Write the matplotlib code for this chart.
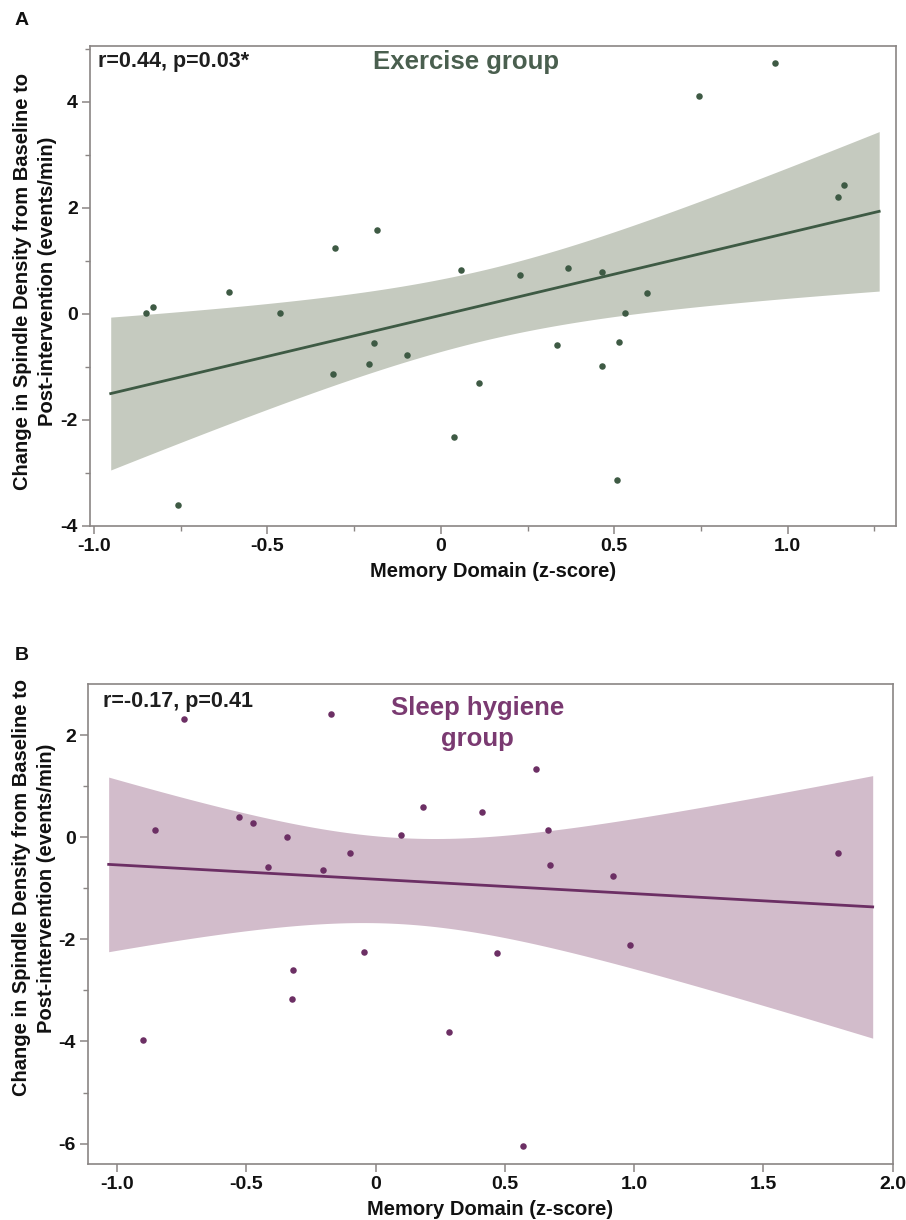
import matplotlib

matplotlib.use("Agg")

import matplotlib.pyplot as plt
import numpy as np

plt.rcParams["font.family"] = ["Liberation Sans", "DejaVu Sans"]
plt.rcParams["font.weight"] = "bold"

# --- data ---------------------------------------------------------------
EX_X = [-0.851, -0.829, -0.610, -0.758, -0.463, -0.306, -0.183, -0.311, -0.192,
        -0.208, -0.097, 0.057, 0.109, 0.038, 0.228, 0.368, 0.464, 0.594,
        0.530, 0.514, 0.336, 0.464, 0.509, 0.743, 0.964, 1.144, 1.163]
EX_Y = [0.01, 0.13, 0.42, -3.61, 0.01, 1.25, 1.58, -1.14, -0.55,
        -0.94, -0.77, 0.82, -1.31, -2.33, 0.74, 0.87, 0.79, 0.39,
        0.01, -0.53, -0.59, -0.99, -3.13, 4.12, 4.73, 2.21, 2.43]

SH_X = [-0.742, -0.171, -0.854, -0.530, -0.473, -0.341, -0.416, -0.205, -0.097,
        0.100, 0.185, 0.412, -0.044, -0.318, -0.324, -0.898, 0.284, 0.469,
        0.620, 0.669, 0.674, 0.918, 0.983, 1.789, 0.572]
SH_Y = [2.32, 2.41, 0.14, 0.40, 0.28, 0.01, -0.59, -0.64, -0.31,
        0.05, 0.59, 0.50, -2.25, -2.60, -3.17, -3.97, -3.82, -2.27,
        1.33, 0.14, -0.54, -0.76, -2.12, -0.32, -6.05]

EX_XTICKS = [-1.0, -0.5, 0.0, 0.5, 1.0]
EX_XLABELS = ["-1.0", "-0.5", "0", "0.5", "1.0"]
EX_XMINOR = [-0.75, -0.25, 0.25, 0.75, 1.25]
EX_YTICKS = [-4, -2, 0, 2, 4]
EX_YMINOR = [-3, -1, 1, 3, 5]

SH_XTICKS = [-1.0, -0.5, 0.0, 0.5, 1.0, 1.5, 2.0]
SH_XLABELS = ["-1.0", "-0.5", "0", "0.5", "1.0", "1.5", "2.0"]
SH_YTICKS = [-6, -4, -2, 0, 2]
SH_YMINOR = [-5, -3, -1, 1]

# two-sided 95% t critical values by degrees of freedom
T_CRIT = {25: 2.0595, 23: 2.0687}

YLABEL = "Change in Spindle Density from Baseline to\nPost-intervention (events/min)"
XLABEL = "Memory Domain (z-score)"
SPINE = "#8a8584"


def fit_band(x, y, pad=0.05, n=120):
    """OLS line with 95% confidence band of the mean, drawn a bit past the data."""
    x = np.asarray(x)
    y = np.asarray(y)
    slope, intercept = np.polyfit(x, y, 1)
    span = x.max() - x.min()
    xs = np.linspace(x.min() - pad * span, x.max() + pad * span, n)
    resid = y - (slope * x + intercept)
    s = np.sqrt(np.sum(resid ** 2) / (len(x) - 2))
    se = s * np.sqrt(1 / len(x) + (xs - x.mean()) ** 2 / np.sum((x - x.mean()) ** 2))
    fit = slope * xs + intercept
    t = T_CRIT[len(x) - 2]
    return xs, fit, fit - t * se, fit + t * se


def style_axes(ax, xticks, xlabels, xminor, yticks, yminor):
    for sp in ax.spines.values():
        sp.set_color(SPINE)
        sp.set_linewidth(1.2)
    ax.set_xticks(xticks)
    ax.set_xticklabels(xlabels)
    ax.set_xticks(xminor, minor=True)
    ax.set_yticks(yticks)
    ax.set_yticklabels([str(v) for v in yticks])
    ax.set_yticks(yminor, minor=True)
    ax.tick_params(which="major", direction="out", length=5.5, width=1.1, color=SPINE,
                   labelsize=14, labelcolor="#111111", pad=3.5)
    ax.tick_params(which="minor", direction="out", length=3.5, width=1.0, color=SPINE)
    ax.tick_params(top=False, right=False, which="both")
    for lab in ax.get_xticklabels() + ax.get_yticklabels():
        lab.set_fontweight("bold")
    ax.set_xlabel(XLABEL, fontsize=14.5, fontweight="bold", color="#111111", labelpad=5)
    ax.set_ylabel(YLABEL, fontsize=14.5, fontweight="bold", color="#111111",
                  linespacing=1.4, va="center")


fig = plt.figure(figsize=(9.06, 12.2), dpi=100)

# --- panel A: exercise group ----------------------------------------------
ax1 = fig.add_axes([0.0995, 0.5689, 0.8894, 0.3936])
xs, fit, lo, hi = fit_band(EX_X, EX_Y)
ax1.fill_between(xs, lo, hi, color="#c5cabf", lw=0, zorder=1)
ax1.plot(xs, fit, color="#3e5a44", lw=2.0, zorder=2)
ax1.scatter(EX_X, EX_Y, s=22, color="#3e5a44", lw=0, zorder=3)
ax1.set_xlim(-1.011, 1.312)
ax1.set_ylim(-4.0, 5.06)
style_axes(ax1, EX_XTICKS, EX_XLABELS, EX_XMINOR, EX_YTICKS, EX_YMINOR)
ax1.yaxis.set_label_coords(-0.068, 0.51)
ax1.text(0.0095, 0.9565, "r=0.44, p=0.03*", transform=ax1.transAxes, fontsize=15.5,
         fontweight="bold", color="#1e1e1e", va="baseline", ha="left")
ax1.text(0.467, 0.952, "Exercise group", transform=ax1.transAxes, fontsize=18.5,
         fontweight="bold", color="#4a5f4f", va="baseline", ha="center")
fig.text(0.024, 0.983, "A", fontsize=14, fontweight="bold", color="#111111",
         ha="center", va="center")

# --- panel B: sleep hygiene group -----------------------------------------
ax2 = fig.add_axes([0.0975, 0.0463, 0.8876, 0.3931])
xs, fit, lo, hi = fit_band(SH_X, SH_Y)
ax2.fill_between(xs, lo, hi, color="#d2bccb", lw=0, zorder=1)
ax2.plot(xs, fit, color="#6c2f64", lw=2.0, zorder=2)
ax2.scatter(SH_X, SH_Y, s=22, color="#6c2f64", lw=0, zorder=3)
ax2.set_xlim(-1.111, 2.0)
ax2.set_ylim(-6.39, 3.0)
style_axes(ax2, SH_XTICKS, SH_XLABELS, [], SH_YTICKS, SH_YMINOR)
ax2.yaxis.set_label_coords(-0.068, 0.5745)
ax2.text(0.0185, 0.9527, "r=-0.17, p=0.41", transform=ax2.transAxes, fontsize=15.5,
         fontweight="bold", color="#1e1e1e", va="baseline", ha="left")
# multi-line text: baseline alignment pins the last line
ax2.text(0.484, 0.8713, "Sleep hygiene\ngroup", transform=ax2.transAxes, fontsize=18.5,
         fontweight="bold", color="#7a3a71", va="baseline", ha="center",
         multialignment="center", linespacing=1.33)
fig.text(0.024, 0.463, "B", fontsize=14, fontweight="bold", color="#111111",
         ha="center", va="center")

fig.savefig("out.png", dpi=100, facecolor="white")
